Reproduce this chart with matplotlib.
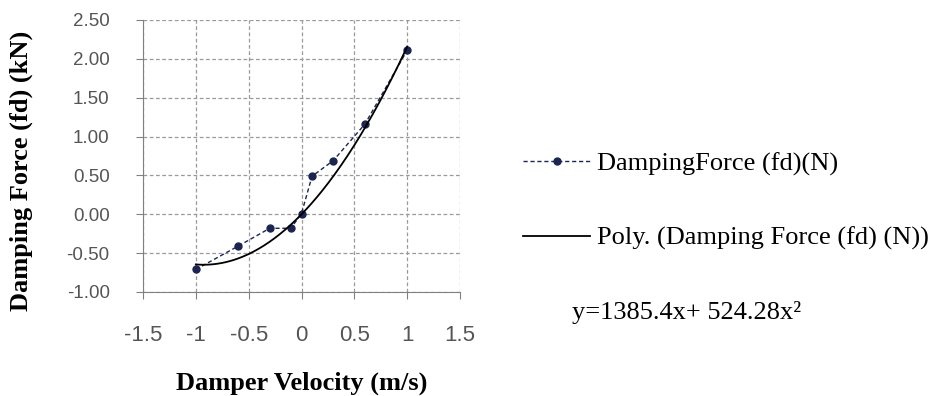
import numpy as np
import matplotlib
matplotlib.use('Agg')
import matplotlib.pyplot as plt

velocity = [-1.0, -0.6, -0.3, -0.1, 0.0, 0.1, 0.3, 0.6, 1.0]
force = [-0.71, -0.41, -0.18, -0.18, 0.01, 0.49, 0.69, 1.16, 2.11]
xticks = [-1.5, -1, -0.5, 0, 0.5, 1, 1.5]
xticklabels = ['-1.5', '-1', '-0.5', '0', '0.5', '1', '1.5']
yticks = [-1.0, -0.5, 0.0, 0.5, 1.0, 1.5, 2.0, 2.5]

# 2nd order trendline with intercept fixed at 0 (y = a*x + b*x^2)
vx = np.array(velocity)
A = np.column_stack([vx, vx**2])
a, b = np.linalg.lstsq(A, np.array(force), rcond=None)[0]
xs = np.linspace(vx.min(), vx.max(), 200)
ys = a*xs + b*xs**2

fig = plt.figure(figsize=(9.31, 3.96), dpi=100)
ax = fig.add_axes([143/931, 1-292/396, (460-143)/931, (292-20)/396])

l1, = ax.plot(velocity, force, linestyle='--', dashes=(3, 2), color='#1b2550', linewidth=1,
              marker='o', markersize=5, markerfacecolor='#1b2550', markeredgecolor='#1b2550')
l2, = ax.plot(xs, ys, color='black', linewidth=1.3)

ax.set_xlim(-1.5, 1.5)
ax.set_ylim(-1.0, 2.5)
ax.set_xticks(xticks)
ax.set_xticklabels(xticklabels)
ax.set_yticks(yticks)
ax.set_yticklabels(['%.2f' % v for v in yticks])
ax.grid(True, linestyle=(0, (3, 2)), color='#9a9a9a', linewidth=0.9)
ax.set_axisbelow(True)
for s in ['top', 'right']:
    ax.spines[s].set_visible(False)
for s in ['left', 'bottom']:
    ax.spines[s].set_color('#808080')
ax.tick_params(direction='out', length=5, color='#808080', labelcolor='#555555')
ax.tick_params(axis='y', labelsize=13.5, pad=19)
ax.tick_params(axis='x', labelsize=16, pad=19)
for lab in ax.get_xticklabels() + ax.get_yticklabels():
    lab.set_family('Liberation Sans')

fig.text(302/931, 1-383/396, 'Damper Velocity (m/s)', family='Liberation Serif',
         fontweight='bold', fontsize=19, ha='center', va='center')
fig.text(21/931, 1-171/396, 'Damping Force (fd) (kN)', family='Liberation Serif',
         fontweight='bold', fontsize=19, ha='center', va='center', rotation=90)

fig.legend([l1, l2], ['DampingForce (fd)(N)', 'Poly. (Damping Force (fd) (N))'],
           loc='upper left', bbox_to_anchor=(523/931, 1-152/396), frameon=False,
           prop={'family': 'Liberation Serif', 'size': 19}, labelspacing=1.92,
           handlelength=2.55, handletextpad=0.27, borderpad=0, borderaxespad=0)
fig.text(572/931, 1-312/396, 'y=1385.4x+ 524.28x²', family='Liberation Serif',
         fontsize=19, va='center', ha='left')

fig.savefig('out.png', dpi=100)
